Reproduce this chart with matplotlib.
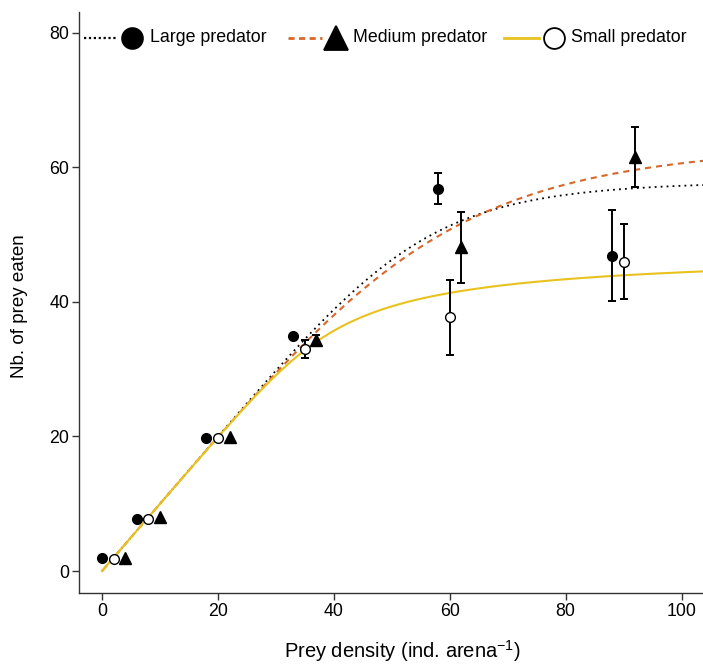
import numpy as np
import matplotlib
matplotlib.use('Agg')
import matplotlib.pyplot as plt

plt.rcParams['font.family'] = ['Liberation Sans', 'DejaVu Sans']
plt.rcParams['mathtext.fontset'] = 'custom'
plt.rcParams['mathtext.rm'] = 'Liberation Sans'
plt.rcParams['mathtext.default'] = 'regular'

# observed means and standard errors, per predator size
x_large = [0, 6, 18, 33, 58, 88]
y_large = [2.0, 7.8, 19.8, 34.9, 56.8, 46.9]
se_large = [0, 0, 0, 0, 2.3, 6.8]

x_medium = [4, 10, 22, 37, 62, 92]
y_medium = [2.0, 8.0, 19.9, 34.3, 48.1, 61.5]
se_medium = [0, 0, 0, 0.85, 5.3, 4.45]

x_small = [2, 8, 20, 35, 60, 90]
y_small = [1.8, 7.8, 19.7, 33.0, 37.7, 46.0]
se_small = [0, 0, 0, 1.35, 5.6, 5.6]

# fitted functional response parameters
asym_large, shape_large = 58.0, 5.0
asym_medium, shape_medium = 64.0, 3.5
asym_small, attack_small = 47.5, 9.0

labels = ['Large predator', 'Medium predator', 'Small predator']
col_large = 'black'
col_medium = '#D8672B'
col_small = '#E8C21E'


def soft_min(n, m, p):
    return n / (1 + (n / m) ** p) ** (1 / p)


def rogers(n, m, a):
    # random predator equation, solved by bisection
    lo = np.zeros_like(n)
    hi = np.minimum(n, m)
    for _ in range(60):
        mid = (lo + hi) / 2
        f = mid - n * (1 - np.exp(a * (mid / m - 1)))
        lo = np.where(f < 0, mid, lo)
        hi = np.where(f < 0, hi, mid)
    return (lo + hi) / 2


W, H = 703, 665
fig = plt.figure(figsize=(W / 100, H / 100), dpi=100)
ax = fig.add_axes([79 / W, 72 / H, 1 - 79 / W, 581 / H])

dens = np.linspace(0, 105, 400)
ax.plot(dens, soft_min(dens, asym_large, shape_large), color=col_large,
        lw=1.3, ls=(0, (1, 2.3)), zorder=1)
ax.plot(dens, soft_min(dens, asym_medium, shape_medium), color=col_medium,
        lw=1.5, ls=(0, (2.9, 2.4)), zorder=1)
ax.plot(dens, rogers(dens, asym_small, attack_small), color=col_small,
        lw=1.5, zorder=1)

ebkw = dict(fmt='none', ecolor='black', elinewidth=1.4, capsize=2.9,
            capthick=1.4, zorder=2)
for xs, ys, ses in [(x_large, y_large, se_large),
                    (x_medium, y_medium, se_medium),
                    (x_small, y_small, se_small)]:
    xs, ys, ses = np.array(xs), np.array(ys), np.array(ses)
    m = ses > 0
    ax.errorbar(xs[m], ys[m], yerr=ses[m], **ebkw)

ax.plot(x_large, y_large, 'o', ms=7, color='black', ls='none', zorder=3)
ax.plot(x_medium, y_medium, '^', ms=8.5, color='black', ls='none', zorder=3)
ax.plot(x_small, y_small, 'o', ms=7, mfc='white', mec='black', mew=1,
        ls='none', zorder=3)

ax.set_xlim(-3.97, 103.7)
ax.set_ylim(-3.27, 83.1)
ax.set_xticks([0, 20, 40, 60, 80, 100])
ax.set_yticks([0, 20, 40, 60, 80])
for s in ['top', 'right']:
    ax.spines[s].set_visible(False)
for s in ['left', 'bottom']:
    ax.spines[s].set_color('#333333')
    ax.spines[s].set_linewidth(1.0)
ax.tick_params(length=5, width=1, color='#333333', labelsize=12.8, pad=2)

ax.set_xlabel(r'Prey density (ind. arena$^{-1}$)', fontsize=14.5)
ax.set_ylabel('Nb. of prey eaten', fontsize=13.5)
ax.xaxis.label.set_va('center')
ax.yaxis.label.set_va('center')
ax.xaxis.set_label_coords((402 - 79) / 624, -(651 - 593) / 581)
ax.yaxis.set_label_coords(-(79 - 20) / 624, (593 - 306) / 581)

# legend drawn in figure pixels
leg_y = 1 - 37.5 / H
leg = [
    (labels[0], col_large, (0, (1, 1.2)), 1.6, 'o', 'black', 84, 118, 132, 150),
    (labels[1], col_medium, (0, (2.2, 1.6)), 2.0, '^', 'black', 288, 322, 336, 353),
    (labels[2], col_small, '-', 2.0, 'o', 'white', 504, 539, 554, 571),
]
for lab, c, ls, lw, mk, fc, x0, x1, xm, xt in leg:
    fig.add_artist(plt.Line2D([x0 / W, x1 / W], [leg_y, leg_y], color=c,
                              ls=ls, lw=lw, transform=fig.transFigure))
    ms = 15 if mk == 'o' else 17
    fig.add_artist(plt.Line2D([xm / W], [leg_y], marker=mk, ms=ms, mfc=fc,
                              mec='black', mew=1.3, ls='none',
                              transform=fig.transFigure))
    fig.text(xt / W, leg_y, lab, fontsize=12.8, va='center', ha='left')

fig.savefig('out.png', dpi=100)
